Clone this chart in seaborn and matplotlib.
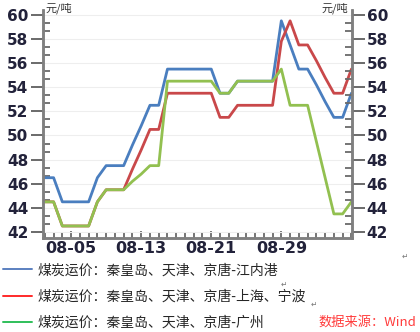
import pandas as pd
import matplotlib
matplotlib.use("Agg")
import matplotlib.pyplot as plt
import matplotlib.dates as mdates
from matplotlib.ticker import FixedLocator, AutoMinorLocator
from matplotlib.lines import Line2D
import seaborn as sns

# ── 数据 ──────────────────────────────────────────────────────────
dates = pd.date_range("2013-08-02", periods=36, freq="D")
jiangnei = [46.5, 46.5, 44.5, 44.5, 44.5, 44.5, 46.5, 47.5, 47.5, 47.5,
            49.2, 50.8, 52.5, 52.5, 55.5, 55.5, 55.5, 55.5, 55.5, 55.5,
            53.5, 53.5, 54.5, 54.5, 54.5, 54.5, 54.5, 59.5, 57.5, 55.5,
            55.5, 54.2, 52.8, 51.5, 51.5, 53.5]
shanghai = [44.5, 44.5, 42.5, 42.5, 42.5, 42.5, 44.5, 45.5, 45.5, 45.5,
            47.2, 48.8, 50.5, 50.5, 53.5, 53.5, 53.5, 53.5, 53.5, 53.5,
            51.5, 51.5, 52.5, 52.5, 52.5, 52.5, 52.5, 57.8, 59.5, 57.5,
            57.5, 56.2, 54.8, 53.5, 53.5, 55.5]
guangzhou = [44.5, 44.5, 42.5, 42.5, 42.5, 42.5, 44.5, 45.5, 45.5, 45.5,
             46.2, 46.8, 47.5, 47.5, 54.5, 54.5, 54.5, 54.5, 54.5, 54.5,
             53.5, 53.5, 54.5, 54.5, 54.5, 54.5, 54.5, 55.5, 52.5, 52.5,
             52.5, 49.5, 46.5, 43.5, 43.5, 44.5]
series_labels = ["煤炭运价：秦皇岛、天津、京唐-江内港",
                 "煤炭运价：秦皇岛、天津、京唐-上海、宁波",
                 "煤炭运价：秦皇岛、天津、京唐-广州"]
y_ticks = list(range(42, 61, 2))
x_ticks = pd.to_datetime(["2013-08-05", "2013-08-13", "2013-08-21", "2013-08-29"])

LINE_COLORS = ["#4a7ebf", "#c9484a", "#92c050"]
LEGEND_COLORS = ["#5b80c0", "#ff2a2a", "#2fbf5a"]
TICK_COLOR = "#22223a"
AXIS_GRAY = "#6a6a6a"

sns.set_theme(style="white")
plt.rcParams["font.family"] = ["Noto Sans CJK SC", "DejaVu Sans"]

df = pd.DataFrame({"date": dates, "jiangnei": jiangnei,
                   "shanghai": shanghai, "guangzhou": guangzhou})

fig = plt.figure(figsize=(4.2, 3.32), dpi=100)
ax = fig.add_axes([0.1024, 0.283, 0.736, 0.687])

for col, c in zip(["jiangnei", "shanghai", "guangzhou"], LINE_COLORS):
    sns.lineplot(data=df, x="date", y=col, color=c, lw=2.0, ax=ax,
                 legend=False)

ax.set_xlim(dates[0] - pd.Timedelta(hours=5), dates[-1] + pd.Timedelta(hours=2))
ax.set_ylim(41.5, 60.4)
ax.set_xlabel("")
ax.set_ylabel("")

# y 轴（左）
ax.yaxis.set_major_locator(FixedLocator(y_ticks))
ax.yaxis.set_minor_locator(AutoMinorLocator(3))
ax.yaxis.grid(True, color="#eeeeee", lw=0.8)
ax.tick_params(axis="y", which="major", direction="out", length=9, width=1.4,
               color=AXIS_GRAY, pad=1.5, labelsize=11, labelcolor=TICK_COLOR,
               labelfontfamily="DejaVu Sans", left=True)
ax.tick_params(axis="y", which="minor", direction="in", length=5, width=1.3,
               color=AXIS_GRAY, left=True)

# x 轴
ax.xaxis.set_major_locator(FixedLocator(mdates.date2num(x_ticks)))
ax.xaxis.set_minor_locator(mdates.DayLocator())
ax.xaxis.set_major_formatter(mdates.DateFormatter("%m-%d"))
ax.tick_params(axis="x", which="major", direction="in", length=5, width=1.3,
               color=AXIS_GRAY, pad=2, labelsize=11.5, labelcolor=TICK_COLOR,
               labelfontfamily="DejaVu Sans", bottom=True)
ax.tick_params(axis="x", which="minor", direction="in", length=4, width=1.3,
               color=AXIS_GRAY, bottom=True)
for lbl in ax.get_xticklabels() + ax.get_yticklabels():
    lbl.set_fontweight("bold")

# y 轴（右）
ax2 = ax.twinx()
ax2.set_ylim(ax.get_ylim())
ax2.yaxis.set_major_locator(FixedLocator(y_ticks))
ax2.yaxis.set_minor_locator(AutoMinorLocator(3))
ax2.tick_params(axis="y", which="major", direction="out", length=9, width=1.4,
                color=AXIS_GRAY, pad=1.5, labelsize=11, labelcolor=TICK_COLOR,
                labelfontfamily="DejaVu Sans", right=True)
ax2.tick_params(axis="y", which="minor", direction="in", length=5, width=1.3,
                color=AXIS_GRAY, right=True)
for lbl in ax2.get_yticklabels():
    lbl.set_fontweight("bold")

for a in (ax, ax2):
    a.spines["top"].set_visible(False)
    for s in ("left", "right", "bottom"):
        a.spines[s].set_color("#808080")
        a.spines[s].set_linewidth(1.8)

# 单位
fig.text(45 / 420, 1 - 8 / 332, "元/吨", fontsize=8, color="#333333",
         ha="left", va="center")
fig.text(348 / 420, 1 - 8 / 332, "元/吨", fontsize=8, color="#333333",
         ha="right", va="center")

# 图例
handles = [Line2D([], [], color=c, lw=1.4) for c in LEGEND_COLORS]
fig.legend(handles, series_labels, loc="upper left",
           bbox_to_anchor=(0.007, 0.207), frameon=False, handlelength=2.1,
           handletextpad=0.4, labelspacing=0.88, fontsize=10,
           borderaxespad=0, borderpad=0, labelcolor="#262626")

for x, y in [(281, 284), (311, 304), (402, 256)]:
    fig.text(x / 420, 1 - y / 332, "↵", fontsize=5.5, color="#777777",
             family=["DejaVu Sans"], ha="left", va="center")

fig.text(318 / 420, 1 - 322 / 332, "数据来源：Wind", fontsize=9.5,
         color="#ff3b3b", style="italic", ha="left", va="center")

fig.savefig("out.png", dpi=100)
